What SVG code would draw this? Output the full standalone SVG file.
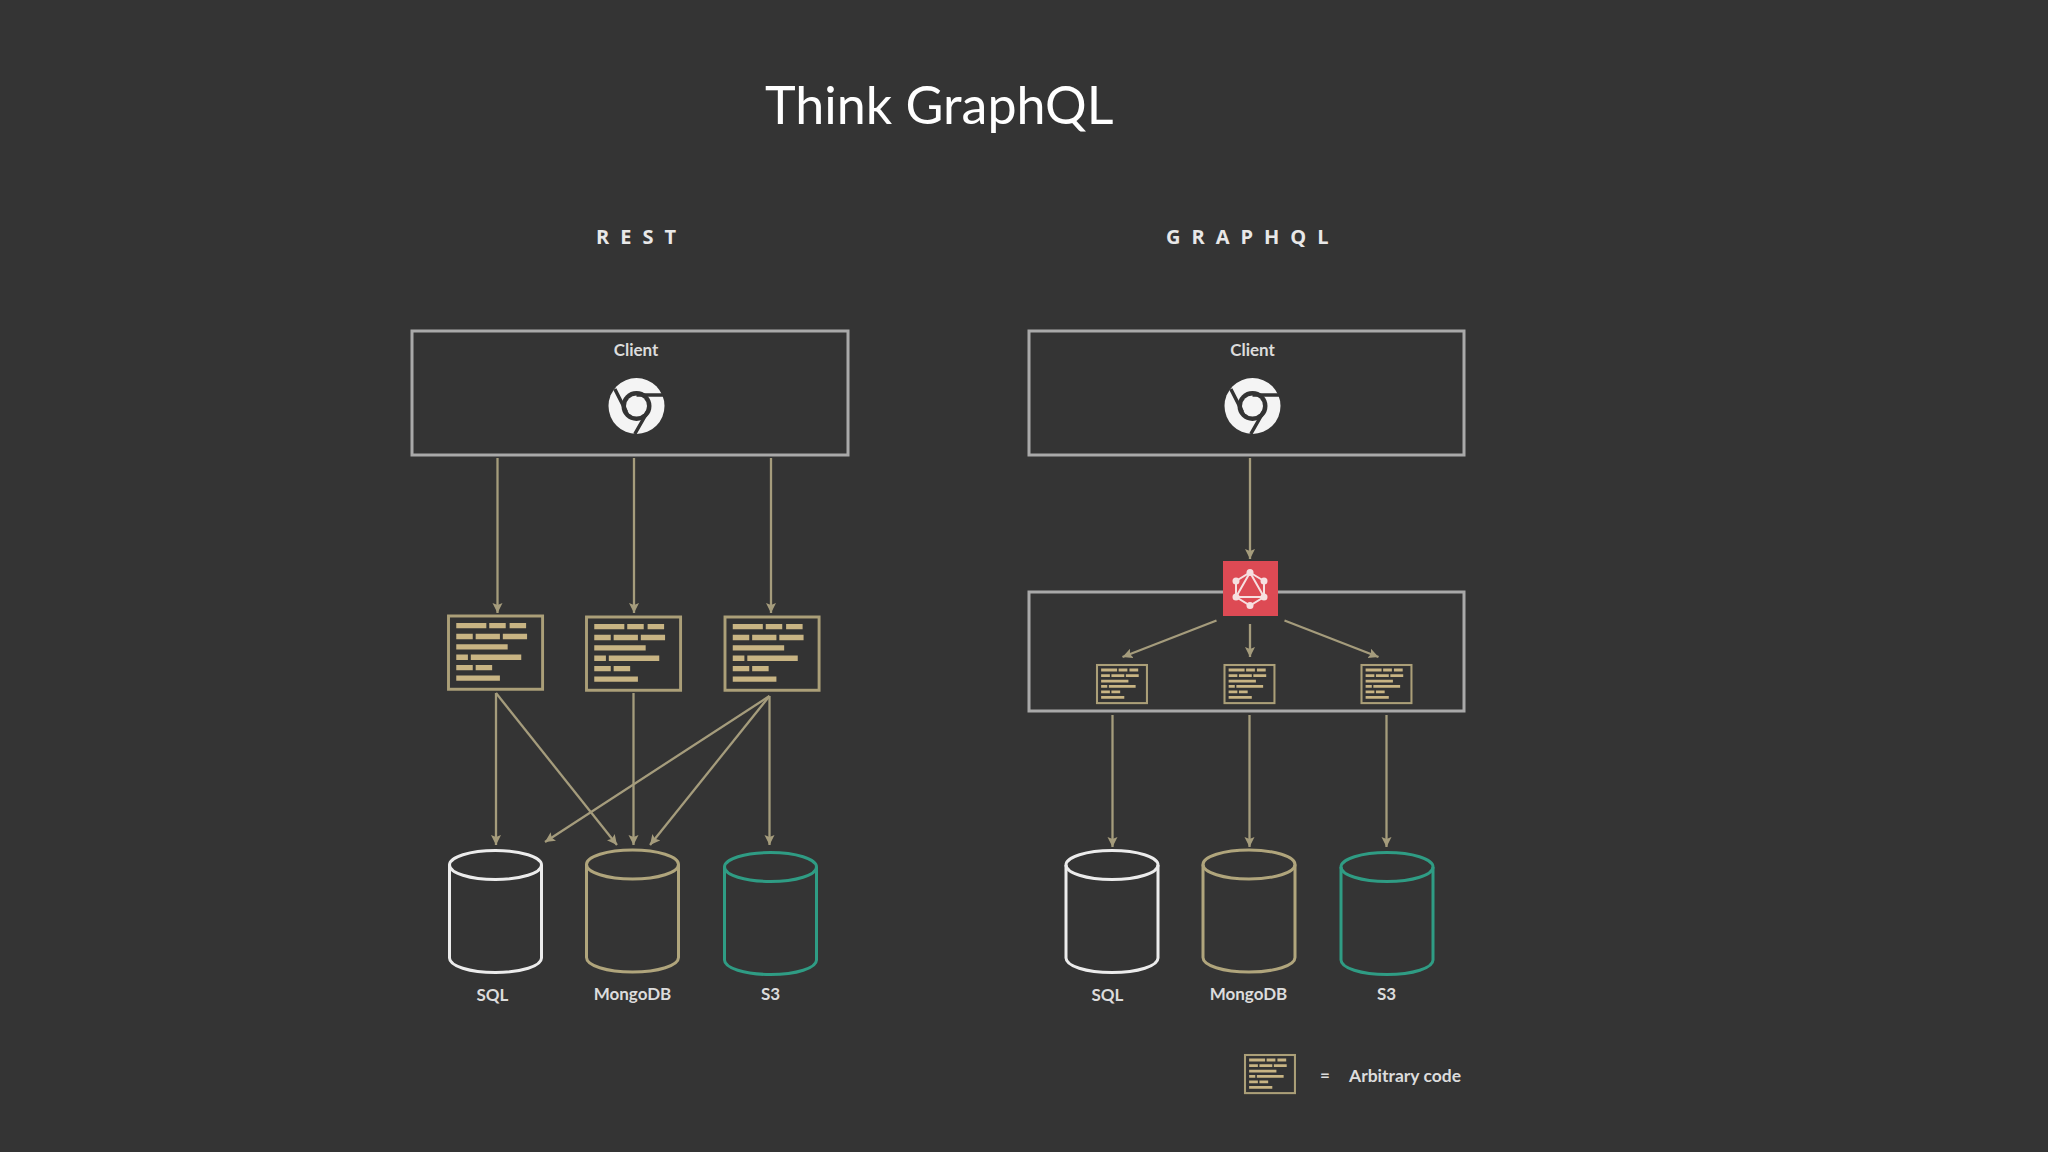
<svg xmlns="http://www.w3.org/2000/svg" width="2048" height="1152" viewBox="0 0 2048 1152">
<style>
text{font-family:Lato,"Open Sans","Liberation Sans",sans-serif;fill:#dcdcdc;font-weight:700}
.title{font-size:52px;font-weight:400;fill:#fff}
.head{font-family:"Open Sans",sans-serif;font-size:20px;font-weight:700;letter-spacing:11px;fill:#e8e8e8}
.lbl{font-size:17px;text-anchor:middle}
.box{fill:none;stroke:#a9a9a9;stroke-width:3}
.conn{fill:none;stroke:#a59c7c;stroke-width:2.300;marker-end:url(#ah)}
.cyl{fill:none;stroke-width:3}
.sql{stroke:#ececec}.mongo{stroke:#b0a57c}.s3{stroke:#2f9c84}
.codeframe{fill:#333;stroke:#ab9f78}
.bar{fill:#c8b483}
</style>
<defs>
<marker id="ah" markerUnits="userSpaceOnUse" markerWidth="11" markerHeight="11" refX="10" refY="5" orient="auto">
<path d="M0,0L10,5L0,10L2,5Z" fill="#a59c7c"/>
</marker>
<g id="code">
<rect class="codeframe" x="0" y="0" width="97" height="74"/>
<path class="bar" d="M8,7h31v5.400H8zM42,7h17v5.400H42zM63,7h17v5.400H63zM8,18h17v5.400H8zM28,18h25v5.400H28zM56,18h25v5.400H56zM8,28.500h53v5.400H8zM8,39h12v5.400H8zM23,39h52v5.400H23zM8,49.500h17v5.400H8zM28,49.500h17v5.400H28zM8,60h45v5.400H8z"/>
</g>
<g id="chrome">
<circle r="28" fill="#f4f4f4"/>
<circle r="15" fill="#333"/>
<circle r="10.500" fill="#f4f4f4"/>
<path d="M-21.700,-17L-10,6M27.500,-11H0M-1.700,28L12,4" fill="none" stroke="#333" stroke-width="3.500"/>
</g>
<g id="cylinder">
<path d="M-46,14.500V107.500C-46,115.500 -26,122 0,122S46,115.500 46,107.500V14.500"/>
<ellipse cx="0" cy="14.500" rx="46" ry="14.500"/>
</g>
</defs>
<rect width="2048" height="1152" fill="#343434"/>
<text class="title" x="765" y="124">Think GraphQL</text>
<text class="head" x="596" y="243.500">REST</text>
<text class="head" x="1166" y="243.500">GRAPHQL</text>
<g id="connectors">
<path class="conn" d="M497.500,458V613"/>
<path class="conn" d="M634,458V613"/>
<path class="conn" d="M771,458V613"/>
<path class="conn" d="M496,693V845"/>
<path class="conn" d="M496,693L617,845"/>
<path class="conn" d="M633.500,693V845"/>
<path class="conn" d="M769.500,696L545,842"/>
<path class="conn" d="M769.500,696L650,845"/>
<path class="conn" d="M769.500,696V845"/>
<path class="conn" d="M1250,458V559"/>
<path class="conn" d="M1216.500,620.500L1122.500,657"/>
<path class="conn" d="M1250,624V657"/>
<path class="conn" d="M1284.500,620.500L1378.500,657"/>
<path class="conn" d="M1112.500,715V847"/>
<path class="conn" d="M1249.500,715V847"/>
<path class="conn" d="M1386.500,715V847"/>
</g>
<g id="rest-client">
<rect class="box" x="412" y="331" width="436" height="124"/>
<text class="lbl" x="636" y="355.500">Client</text>
<use href="#chrome" x="636.500" y="406"/>
</g>
<g id="graphql-client">
<rect class="box" x="1029" y="331" width="435" height="124"/>
<text class="lbl" x="1252.500" y="355.500">Client</text>
<use href="#chrome" x="1252.500" y="406"/>
</g>
<g id="rest-code-1" stroke-width="3"><use href="#code" transform="translate(448.500,616) scale(.97,.99)"/></g>
<g id="rest-code-2" stroke-width="3"><use href="#code" transform="translate(586.500,617) scale(.97,.99)"/></g>
<g id="rest-code-3" stroke-width="3"><use href="#code" transform="translate(725,617) scale(.97,.99)"/></g>
<g id="graphql-server">
<rect class="box" x="1029" y="592" width="435" height="119"/>
</g>
<g id="graphql-logo">
<rect x="1223" y="561" width="55" height="55" fill="#dd4a54"/>
<g fill="none" stroke="#f6dfe0" stroke-width="2">
<path d="M1250,572.500L1264,581V597L1250,605.500L1236,597V581Z"/>
<path d="M1250,572.500L1264,597H1236Z"/>
</g>
<g fill="#f6dfe0">
<circle cx="1250" cy="572.500" r="3.500"/><circle cx="1264" cy="581" r="3.500"/><circle cx="1264" cy="597" r="3.500"/>
<circle cx="1250" cy="605.500" r="3.500"/><circle cx="1236" cy="597" r="3.500"/><circle cx="1236" cy="581" r="3.500"/>
</g>
</g>
<g id="graphql-code-1" stroke-width="4"><use href="#code" transform="translate(1097,665) scale(.515)"/></g>
<g id="graphql-code-2" stroke-width="4"><use href="#code" transform="translate(1224.500,665) scale(.515)"/></g>
<g id="graphql-code-3" stroke-width="4"><use href="#code" transform="translate(1361.500,665) scale(.515)"/></g>
<g id="rest-sql"><use class="cyl sql" href="#cylinder" x="495.500" y="850.500"/><text class="lbl" x="492.500" y="1001">SQL</text></g>
<g id="rest-mongodb"><use class="cyl mongo" href="#cylinder" x="632.500" y="850"/><text class="lbl" x="632.500" y="999.500">MongoDB</text></g>
<g id="rest-s3"><use class="cyl s3" href="#cylinder" x="770.500" y="852.500"/><text class="lbl" x="770.500" y="999.500">S3</text></g>
<g id="graphql-sql"><use class="cyl sql" href="#cylinder" x="1112" y="850.500"/><text class="lbl" x="1107.500" y="1001">SQL</text></g>
<g id="graphql-mongodb"><use class="cyl mongo" href="#cylinder" x="1249" y="850"/><text class="lbl" x="1248.500" y="999.500">MongoDB</text></g>
<g id="graphql-s3"><use class="cyl s3" href="#cylinder" x="1387" y="852.500"/><text class="lbl" x="1386.500" y="999.500">S3</text></g>
<g id="legend">
<use href="#code" stroke-width="4" transform="translate(1245,1055) scale(.515)"/>
<text class="lbl" x="1325" y="1081">=</text>
<text x="1349" y="1082" font-size="17.500">Arbitrary code</text>
</g>
</svg>
